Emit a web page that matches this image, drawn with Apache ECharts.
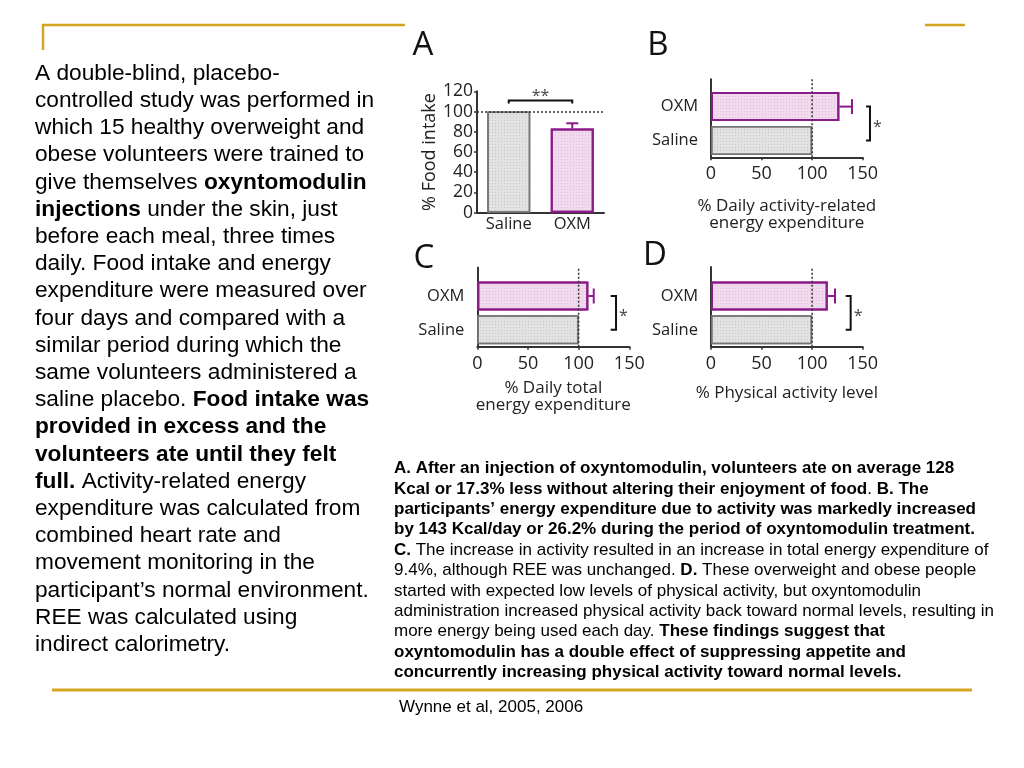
<!DOCTYPE html>
<html><head><meta charset="utf-8">
<script src="https://cdn.jsdelivr.net/npm/echarts@6/dist/echarts.min.js"></script>
<style>html,body{margin:0;padding:0;background:#fff}#c{width:1024px;height:768px}</style>
</head><body><div id="c"></div>
<script>
// ---------------- DATA ----------------
const groups = ['Saline', 'OXM'];
// Panel A: % Food intake (mean) and upper error bar end
const foodIntake = [100, 83.2];
const foodIntakeErr = [null, 88.4];
// Panel B: % Daily activity-related energy expenditure
const activityEE = [100, 126.9];
const activityEEErr = [null, 139.4];
// Panel C: % Daily total energy expenditure
const totalEE = [100, 109.6];
const totalEEErr = [null, 114.9];
// Panel D: % Physical activity level
const physActivity = [100, 115.4];
const physActivityErr = [null, 122.6];
const referenceLevel = 100;
const yTicksA = [0, 20, 40, 60, 80, 100, 120];
const xTicksBCD = [0, 50, 100, 150];

const panelTitles = ['A', 'B', 'C', 'D'];
const axisNames = {
  A: '% Food intake',
  B: '% Daily activity-related\nenergy expenditure',
  C: '% Daily total\nenergy expenditure',
  D: '% Physical activity level'
};

const leftText = [
  [['r', 'A double-blind, placebo-']],
  [['r', 'controlled study was performed in']],
  [['r', 'which 15 healthy overweight and']],
  [['r', 'obese volunteers were trained to']],
  [['r', 'give themselves '], ['b', 'oxyntomodulin']],
  [['b', 'injections'], ['r', ' under the skin, just']],
  [['r', 'before each meal, three times']],
  [['r', 'daily. Food intake and energy']],
  [['r', 'expenditure were measured over']],
  [['r', 'four days and compared with a']],
  [['r', 'similar period during which the']],
  [['r', 'same volunteers administered a']],
  [['r', 'saline placebo. '], ['b', 'Food intake was']],
  [['b', 'provided in excess and the']],
  [['b', 'volunteers ate until they felt']],
  [['b', 'full.'], ['r', ' Activity-related energy']],
  [['r', 'expenditure was calculated from']],
  [['r', 'combined heart rate and']],
  [['r', 'movement monitoring in the']],
  [['r', 'participant\u2019s normal environment.']],
  [['r', 'REE was calculated using']],
  [['r', 'indirect calorimetry.']]
];
const captionText = [
  [['b', 'A. After an injection of oxyntomodulin, volunteers ate on average 128']],
  [['b', 'Kcal or 17.3% less without altering their enjoyment of food'], ['r', '. '], ['b', 'B. The']],
  [['b', 'participants\u2019 energy expenditure due to activity was markedly increased']],
  [['b', 'by 143 Kcal/day or 26.2% during the period of oxyntomodulin treatment.']],
  [['b', 'C.'], ['r', ' The increase in activity resulted in an increase in total energy expenditure of']],
  [['r', '9.4%, although REE was unchanged. '], ['b', 'D.'], ['r', ' These overweight and obese people']],
  [['r', 'started with expected low levels of physical activity, but oxyntomodulin']],
  [['r', 'administration increased physical activity back toward normal levels, resulting in']],
  [['r', 'more energy being used each day. '], ['b', 'These findings suggest that']],
  [['b', 'oxyntomodulin has a double effect of suppressing appetite and']],
  [['b', 'concurrently increasing physical activity toward normal levels.']]
];
const citation = 'Wynne et al, 2005, 2006';

// ---------------- STYLE ----------------
const PURPLE = '#8c1b8a';
const PINK = '#f1d9ee';
const GREYFILL = '#e2e2e2';
const GREYLINE = '#747474';
const AX = '#333';
const GOLD = '#d5a521';
const CF = 'Open Sans';
const SF = 'Liberation Sans';

const decalG = {symbol: 'rect', symbolSize: 1, dashArrayX: [1, 2], dashArrayY: [1, 2], color: 'rgba(150,150,150,0.35)'};
const decalP = {symbol: 'rect', symbolSize: 1, dashArrayX: [1, 2], dashArrayY: [1, 2], color: 'rgba(190,140,185,0.35)'};

function barItems(vals) {
  return vals.map((v, i) => ({
    value: v,
    itemStyle: i === 0
      ? {color: GREYFILL, borderColor: GREYLINE, borderWidth: 1.5, decal: decalG}
      : {color: PINK, borderColor: PURPLE, borderWidth: 2, decal: decalP}
  }));
}

function errV(params, api) {
  const c = api.value(0), lo = api.value(1), hi = api.value(2);
  const p0 = api.coord([c, lo]), p1 = api.coord([c, hi]);
  return {type: 'group', children: [
    {type: 'line', shape: {x1: p0[0], y1: p0[1], x2: p1[0], y2: p1[1]}, style: {stroke: PURPLE, lineWidth: 2}},
    {type: 'line', shape: {x1: p1[0] - 6, y1: p1[1], x2: p1[0] + 6, y2: p1[1]}, style: {stroke: PURPLE, lineWidth: 2}}
  ]};
}
function errH(params, api) {
  const lo = api.value(0), hi = api.value(1), c = api.value(2);
  const p0 = api.coord([lo, c]), p1 = api.coord([hi, c]);
  return {type: 'group', children: [
    {type: 'line', shape: {x1: p0[0], y1: p0[1], x2: p1[0], y2: p1[1]}, style: {stroke: PURPLE, lineWidth: 2}},
    {type: 'line', shape: {x1: p1[0], y1: p1[1] - 7.5, x2: p1[0], y2: p1[1] + 7.5}, style: {stroke: PURPLE, lineWidth: 2}}
  ]};
}
function bracketV(label) {
  return function (params, api) {
    const c0 = api.value(0), c1 = api.value(1), lev = api.value(2), tick = api.value(3);
    const a = api.coord([c0, lev]), b = api.coord([c1, lev]);
    const ta = api.coord([c0, tick]);
    return {type: 'group', children: [
      {type: 'polyline', shape: {points: [[a[0], ta[1]], a, b, [b[0], ta[1]]]}, style: {stroke: '#111', lineWidth: 2, fill: null}},
      {type: 'text', x: (a[0] + b[0]) / 2, y: a[1] + 4, style: {text: label, fontSize: 16, fontFamily: CF, fill: '#444', align: 'center', verticalAlign: 'bottom'}}
    ]};
  };
}
function bracketH(label) {
  return function (params, api) {
    const x = api.value(0), tx = api.value(1), y0 = api.value(2), y1 = api.value(3);
    const a = api.coord([x, y0]), b = api.coord([x, y1]), t = api.coord([tx, y0]);
    return {type: 'group', children: [
      {type: 'polyline', shape: {points: [[t[0], a[1]], a, b, [t[0], b[1]]]}, style: {stroke: '#111', lineWidth: 2, fill: null}},
      {type: 'text', x: a[0] + 3, y: (a[1] + b[1]) / 2 + 4, style: {text: label, fontSize: 16, fontFamily: CF, fill: '#444', align: 'left', verticalAlign: 'middle'}}
    ]};
  };
}

// ---------------- GRIDS ----------------
const grids = [
  {left: 477, top: 91.3, width: 127, height: 121.4},      // 0 A
  {left: 711, top: 89.7, width: 151.7, height: 67.6},     // 1 B bars
  {left: 711, top: 79.3, width: 151.7, height: 78},       // 2 B frame
  {left: 477.3, top: 279.1, width: 152, height: 67.6},    // 3 C bars
  {left: 477.3, top: 267.5, width: 152, height: 79.2},    // 4 C frame
  {left: 711, top: 279.1, width: 151.7, height: 67.6},    // 5 D bars
  {left: 711, top: 267, width: 151.7, height: 79.7}       // 6 D frame
];

const lbl = {fontFamily: CF, fontSize: 16.5, color: '#222'};
const tickLbl = {fontFamily: CF, fontSize: 18, color: '#222'};
const axLine = {show: true, lineStyle: {color: AX, width: 2}};
const none = {show: false};

const xAxes = [
  {gridIndex: 0, type: 'category', data: groups, axisLine: axLine, axisTick: none, axisLabel: Object.assign({margin: 3}, lbl)},
];
const yAxes = [
  {gridIndex: 0, type: 'value', min: yTicksA[0], max: yTicksA[yTicksA.length - 1], interval: yTicksA[1] - yTicksA[0],
   axisLine: axLine, axisTick: {show: true, length: 3, lineStyle: {color: AX, width: 1.5}}, splitLine: none,
   axisLabel: Object.assign({margin: 4}, tickLbl, {fontSize: 17.5}),
   name: axisNames.A, nameLocation: 'middle', nameGap: 33, nameTextStyle: Object.assign({}, lbl, {fontSize: 18})}
];
const hPanels = [
  {bars: 1, frame: 2, key: 'B', gap: 40},
  {bars: 3, frame: 4, key: 'C', gap: 33},
  {bars: 5, frame: 6, key: 'D', gap: 38}
];
hPanels.forEach(p => {
  xAxes.push({gridIndex: p.bars, type: 'value', min: xTicksBCD[0], max: xTicksBCD[xTicksBCD.length - 1], interval: xTicksBCD[1] - xTicksBCD[0],
    axisLine: axLine, axisTick: {show: true, length: 3, lineStyle: {color: AX, width: 1.5}}, splitLine: none,
    axisLabel: Object.assign({margin: 8}, tickLbl),
    name: axisNames[p.key], nameLocation: 'middle', nameGap: p.gap, nameTextStyle: Object.assign({}, lbl, {fontSize: 17, lineHeight: 17})});
  yAxes.push({gridIndex: p.bars, type: 'category', data: groups, axisLine: none, axisTick: none,
    axisLabel: Object.assign({margin: 13}, lbl)});
  xAxes.push({gridIndex: p.frame, type: 'value', min: xTicksBCD[0], max: xTicksBCD[xTicksBCD.length - 1], show: false});
  yAxes.push({gridIndex: p.frame, type: 'value', min: 0, max: 1, axisLine: axLine, axisTick: none, axisLabel: none, splitLine: none});
});

const series = [];
// Panel A
series.push({type: 'bar', xAxisIndex: 0, yAxisIndex: 0, barWidth: 43, data: barItems(foodIntake), z: 2,
  markLine: {silent: true, symbol: 'none', label: none, lineStyle: {color: '#333', type: [2, 2], width: 1.5}, data: [{yAxis: referenceLevel}]}});
series.push({type: 'custom', xAxisIndex: 0, yAxisIndex: 0, z: 5, renderItem: errV,
  data: foodIntake.map((v, i) => foodIntakeErr[i] == null ? null : [i, v, foodIntakeErr[i]]).filter(d => d)});
series.push({type: 'custom', xAxisIndex: 0, yAxisIndex: 0, z: 5, renderItem: bracketV('**'), data: [[0, 1, 111, 108]]});

const hData = [
  {vals: activityEE, err: activityEEErr, br: [157.2, 153.3, -0.23, 0.88]},
  {vals: totalEE, err: totalEEErr, br: [136.9, 131.6, -0.2, 0.94]},
  {vals: physActivity, err: physActivityErr, br: [138.1, 133.2, -0.14, 0.96]}
];
hPanels.forEach((p, k) => {
  const d = hData[k];
  series.push({type: 'bar', xAxisIndex: p.bars, yAxisIndex: p.bars, barWidth: 29, data: barItems(d.vals), z: 2});
  series.push({type: 'custom', xAxisIndex: p.bars, yAxisIndex: p.bars, z: 5, renderItem: errH,
    data: d.vals.map((v, i) => d.err[i] == null ? null : [v, d.err[i], i]).filter(x => x)});
  series.push({type: 'custom', xAxisIndex: p.bars, yAxisIndex: p.bars, z: 5, renderItem: bracketH('*'), data: [d.br]});
  series.push({type: 'line', xAxisIndex: p.frame, yAxisIndex: p.frame, z: 6, symbol: 'none', silent: true,
    lineStyle: {color: '#333', type: [2, 2], width: 1.5}, data: [[referenceLevel, 0], [referenceLevel, 1]]});
});

// ---------------- GRAPHIC (slide text + rules) ----------------
function richLine(segs) { return segs.map(s => '{' + s[0] + '|' + s[1] + '}').join(''); }
const graphic = [];
const goldLine = (x1, y1, x2, y2, w) => ({type: 'line', shape: {x1, y1, x2, y2}, style: {stroke: GOLD, lineWidth: w}});
graphic.push(goldLine(42, 25, 405, 25, 2.5));
graphic.push(goldLine(43, 24, 43, 50, 2.5));
graphic.push(goldLine(925, 25, 965, 25, 2.5));
graphic.push(goldLine(52, 690, 972, 690, 3));

leftText.forEach((segs, i) => {
  graphic.push({type: 'text', x: 35, y: 73.5 + i * 27.2, style: {
    text: richLine(segs), verticalAlign: 'middle', align: 'left',
    rich: {r: {fontFamily: SF, fontSize: 22.7, fill: '#000'}, b: {fontFamily: SF, fontSize: 22.7, fontWeight: 'bold', fill: '#000'}}
  }});
});
captionText.forEach((segs, i) => {
  graphic.push({type: 'text', x: 394, y: 468.5 + i * 20.4, style: {
    text: richLine(segs), verticalAlign: 'middle', align: 'left',
    rich: {r: {fontFamily: SF, fontSize: 17, fill: '#000'}, b: {fontFamily: SF, fontSize: 17, fontWeight: 'bold', fill: '#000'}}
  }});
});
graphic.push({type: 'text', x: 399, y: 707, style: {text: citation, fontFamily: SF, fontSize: 17, fill: '#000', verticalAlign: 'middle'}});

const letterPos = [[423, 46], [658, 46], [424, 259], [655, 256]];
panelTitles.forEach((t, i) => {
  graphic.push({type: 'text', x: letterPos[i][0], y: letterPos[i][1], style: {text: t, fontFamily: CF, fontSize: 33, fill: '#111', align: 'center', verticalAlign: 'middle'}});
});

const chart = echarts.init(document.getElementById('c'), null, {renderer: 'canvas'});
chart.setOption({
  animation: false,
  backgroundColor: '#fff',
  grid: grids,
  xAxis: xAxes,
  yAxis: yAxes,
  series: series,
  graphic: graphic
});
</script></body></html>
